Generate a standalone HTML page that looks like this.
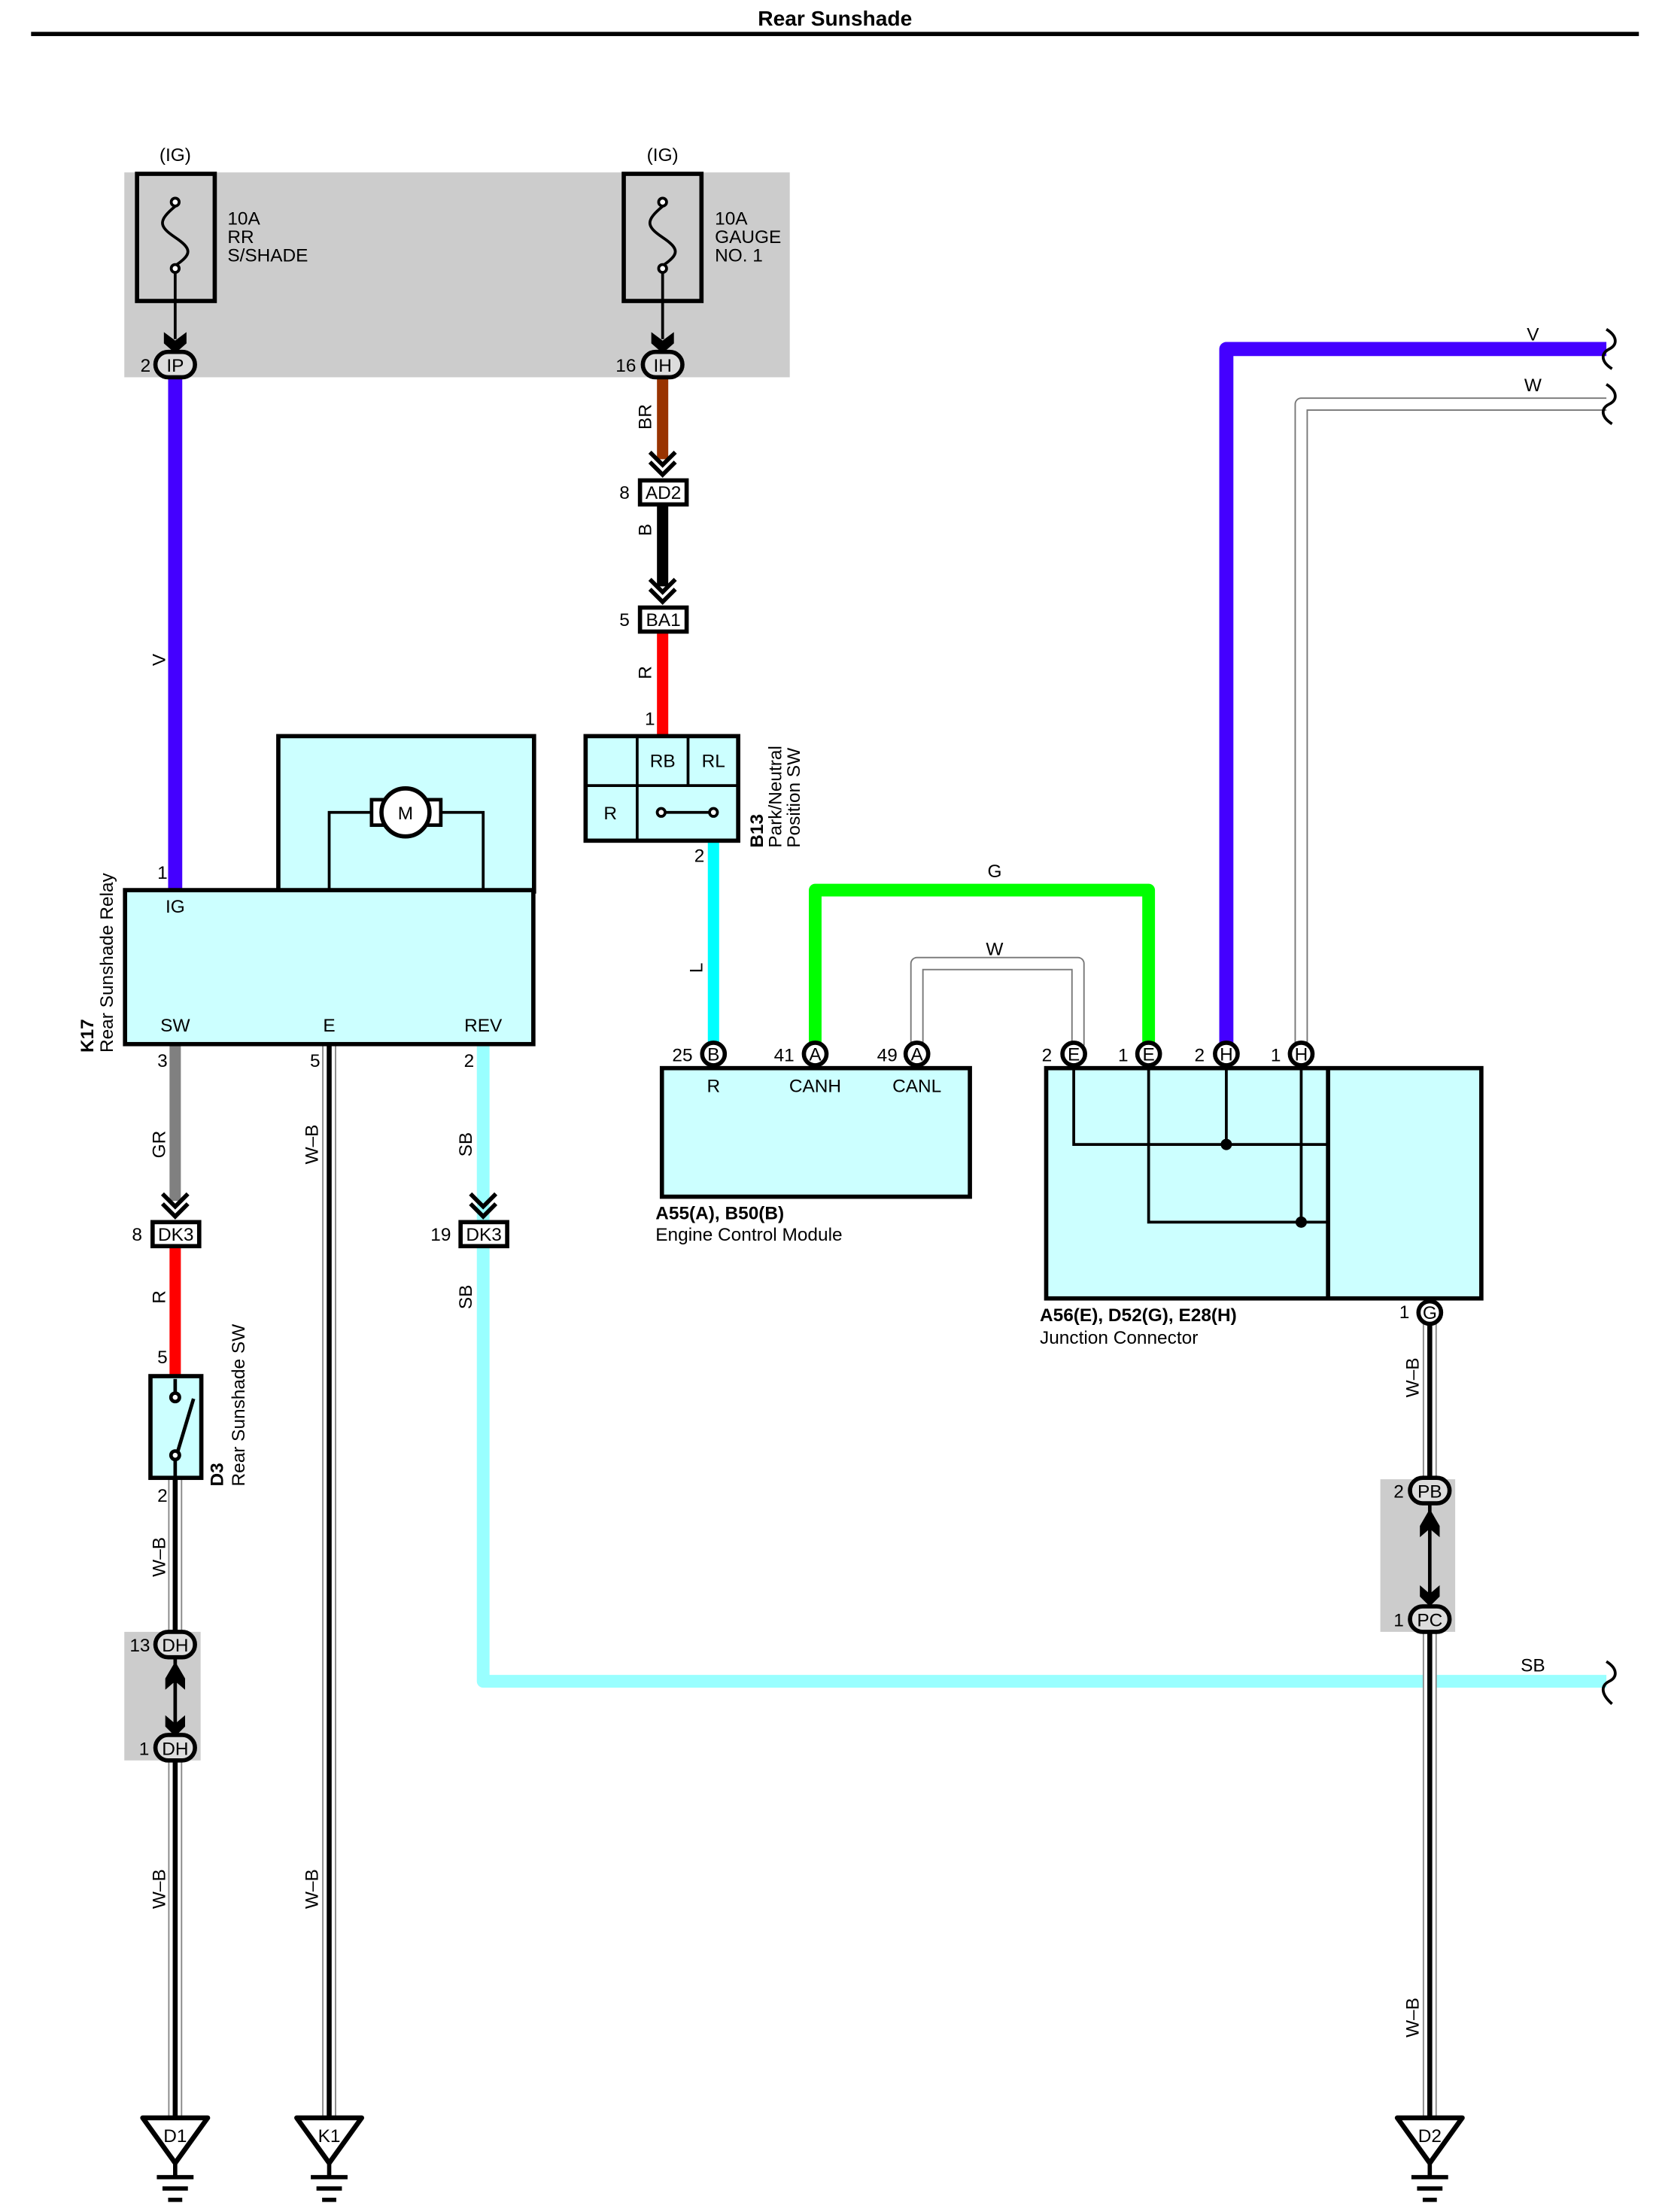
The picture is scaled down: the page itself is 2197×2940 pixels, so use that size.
<!DOCTYPE html>
<html><head><meta charset="utf-8"><style>
html,body{margin:0;padding:0;background:#fff;}
svg{display:block;}
text{font-family:"Liberation Sans",Arial,sans-serif;font-size:13px;fill:#000;}
.b{font-weight:bold;}
</style></head><body>
<svg width="2197" height="2940" viewBox="0 0 1170 1565.6" xmlns="http://www.w3.org/2000/svg">
<rect x="0" y="0" width="1170" height="1566" fill="#fff"/>
<text x="591" y="18" text-anchor="middle" class="b" style="font-size:15px">Rear Sunshade</text>
<rect x="22" y="22.5" width="1138" height="3" fill="#000"/>

<!-- gray fuse block -->
<rect x="88" y="122" width="471" height="145" fill="#cccccc"/>
<text x="124" y="114" text-anchor="middle">(IG)</text>
<text x="469" y="114" text-anchor="middle">(IG)</text>
<rect x="97" y="123" width="55" height="90" fill="none" stroke="#000" stroke-width="3"/>
<rect x="441.5" y="123" width="55" height="90" fill="none" stroke="#000" stroke-width="3"/>
<g fill="none" stroke="#000" stroke-width="2">
<path d="M124,146 C112,156 112,160 124,168 C136,176 136,180 124,188"/>
<circle cx="124" cy="143" r="2.8" fill="#fff"/><circle cx="124" cy="190" r="2.8" fill="#fff"/>
<path d="M469,146 C457,156 457,160 469,168 C481,176 481,180 469,188"/>
<circle cx="469" cy="143" r="2.8" fill="#fff"/><circle cx="469" cy="190" r="2.8" fill="#fff"/>
<line x1="124" y1="193" x2="124" y2="240"/><line x1="469" y1="193" x2="469" y2="240"/>
</g>
<polygon points="116,235 124,241 132,235 132,243 124,250 116,243" fill="#000"/>
<polygon points="461,235 469,241 477,235 477,243 469,250 461,243" fill="#000"/>
<text x="161" y="159">10A</text><text x="161" y="172">RR</text><text x="161" y="185">S/SHADE</text>
<text x="506" y="159">10A</text><text x="506" y="172">GAUGE</text><text x="506" y="185">NO. 1</text>

<!-- wires -->
<g fill="none" stroke-linejoin="round">
<line x1="124" y1="266" x2="124" y2="630" stroke="#4400ff" stroke-width="10"/>
<line x1="469" y1="266" x2="469" y2="325" stroke="#993300" stroke-width="8"/>
<line x1="469" y1="357" x2="469" y2="415" stroke="#000" stroke-width="8"/>
<line x1="469" y1="448" x2="469" y2="520" stroke="#ff0000" stroke-width="8"/>
<line x1="505" y1="595" x2="505" y2="740" stroke="#00ffff" stroke-width="8"/>
<line x1="124" y1="739" x2="124" y2="850" stroke="#808080" stroke-width="8"/>
<line x1="124" y1="882" x2="124" y2="973" stroke="#ff0000" stroke-width="8"/>
<path d="M342,739 L342,1190 L1137,1190" stroke="#99ffff" stroke-width="9"/>
<path d="M577,740 L577,630 L813,630 L813,740" stroke="#00ff00" stroke-width="9"/>
<path d="M868,740 L868,247 L1137,247" stroke="#4400ff" stroke-width="10"/>
<path d="M649,740 L649,682 L763,682 L763,740" stroke="#777" stroke-width="9.5"/>
<path d="M649,740 L649,682 L763,682 L763,740" stroke="#fff" stroke-width="7.5"/>
<path d="M921,740 L921,286 L1137,286" stroke="#777" stroke-width="9.5"/>
<path d="M921,740 L921,286 L1137,286" stroke="#fff" stroke-width="7.5"/>
</g>
<!-- W-B wires -->
<g fill="none">
<g stroke="#888" stroke-width="10"><line x1="124" y1="1046" x2="124" y2="1500"/><line x1="233" y1="739" x2="233" y2="1500"/><line x1="1012" y1="935" x2="1012" y2="1500"/></g>
<g stroke="#fff" stroke-width="8"><line x1="124" y1="1046" x2="124" y2="1500"/><line x1="233" y1="739" x2="233" y2="1500"/><line x1="1012" y1="935" x2="1012" y2="1500"/></g>
<g stroke="#000" stroke-width="3.5"><line x1="124" y1="1046" x2="124" y2="1500"/><line x1="233" y1="739" x2="233" y2="1500"/><line x1="1012" y1="935" x2="1012" y2="1500"/></g>
</g>
<!-- wavy ends -->
<g fill="none" stroke="#000" stroke-width="2">
<path d="M1137,233 C1145,238 1145,244 1139,247 C1133,250 1133,256 1141,261"/>
<path d="M1137,272 C1145,277 1145,283 1139,286 C1133,289 1133,295 1141,300"/>
<path d="M1137,1176 C1145,1181 1145,1187 1139,1190 C1133,1193 1133,1199 1141,1206"/>
</g>

<!-- chevrons -->
<g fill="none" stroke="#000" stroke-width="3">
<path d="M460,320 L469,329 L478,320 M460,327 L469,336 L478,327"/>
<path d="M460,410 L469,419 L478,410 M460,417 L469,426 L478,417"/>
<path d="M115,845 L124,854 L133,845 M115,852 L124,861 L133,852"/>
<path d="M333,845 L342,854 L351,845 M333,852 L342,861 L351,852"/>
</g>
<g fill="#fff" stroke="#000" stroke-width="3">
<rect x="453" y="340" width="33" height="17"/>
<rect x="453" y="430" width="33" height="17"/>
<rect x="108" y="865" width="33" height="17"/>
<rect x="326" y="865" width="33" height="17"/>
</g>
<text x="469.5" y="353" text-anchor="middle">AD2</text><text x="442" y="353" text-anchor="middle">8</text>
<text x="469.5" y="443" text-anchor="middle">BA1</text><text x="442" y="443" text-anchor="middle">5</text>
<text x="124.5" y="878" text-anchor="middle">DK3</text><text x="97" y="878" text-anchor="middle">8</text>
<text x="342.5" y="878" text-anchor="middle">DK3</text><text x="312" y="878" text-anchor="middle">19</text>

<g fill="#ddd" stroke="#000" stroke-width="3">
<rect x="110" y="249" width="28" height="18" rx="9"/>
<rect x="455" y="249" width="28" height="18" rx="9"/>
</g>
<text x="124" y="263" text-anchor="middle">IP</text><text x="103" y="263" text-anchor="middle">2</text>
<text x="469" y="263" text-anchor="middle">IH</text><text x="443" y="263" text-anchor="middle">16</text>

<!-- B13 -->
<rect x="414.5" y="521" width="108" height="74" fill="#ccffff" stroke="#000" stroke-width="3"/>
<g stroke="#000" stroke-width="2" fill="none">
<line x1="451" y1="521" x2="451" y2="595"/><line x1="487" y1="521" x2="487" y2="556"/><line x1="414" y1="556" x2="523" y2="556"/>
<line x1="468" y1="575" x2="505" y2="575"/>
<circle cx="468" cy="575" r="2.8" fill="#fff"/><circle cx="505" cy="575" r="2.8" fill="#fff"/>
</g>
<text x="469" y="543" text-anchor="middle">RB</text><text x="505" y="543" text-anchor="middle">RL</text><text x="432" y="580" text-anchor="middle">R</text>
<text x="460" y="513" text-anchor="middle">1</text><text x="495" y="610" text-anchor="middle">2</text>
<g transform="translate(540,600) rotate(-90)"><text x="0" y="0" class="b">B13</text></g>
<g transform="translate(553,600) rotate(-90)"><text x="0" y="0">Park/Neutral</text></g>
<g transform="translate(566,600) rotate(-90)"><text x="0" y="0">Position SW</text></g>

<!-- motor box + relay -->
<rect x="197" y="521" width="181" height="110" fill="#ccffff" stroke="#000" stroke-width="3"/>
<g fill="none" stroke="#000" stroke-width="2">
<path d="M233,630 L233,575 L342,575 L342,630"/>
</g>
<rect x="263" y="566" width="10" height="18" fill="#fff" stroke="#000" stroke-width="2.5"/>
<rect x="302" y="566" width="10" height="18" fill="#fff" stroke="#000" stroke-width="2.5"/>
<circle cx="287" cy="575" r="17" fill="#fff" stroke="#000" stroke-width="3"/>
<text x="287" y="580" text-anchor="middle">M</text>
<rect x="88.5" y="630" width="289" height="109" fill="#ccffff" stroke="#000" stroke-width="3"/>
<text x="124" y="646" text-anchor="middle">IG</text>
<text x="124" y="730" text-anchor="middle">SW</text><text x="233" y="730" text-anchor="middle">E</text><text x="342" y="730" text-anchor="middle">REV</text>
<text x="115" y="622" text-anchor="middle">1</text>
<text x="115" y="755" text-anchor="middle">3</text><text x="223" y="755" text-anchor="middle">5</text><text x="332" y="755" text-anchor="middle">2</text>
<g transform="translate(66,745) rotate(-90)"><text x="0" y="0" class="b">K17</text></g>
<g transform="translate(80,745) rotate(-90)"><text x="0" y="0">Rear Sunshade Relay</text></g>

<!-- D3 switch -->
<rect x="106.5" y="974" width="36" height="72" fill="#ccffff" stroke="#000" stroke-width="3"/>
<g stroke="#000" stroke-width="2.5" fill="none">
<line x1="124" y1="976" x2="124" y2="986"/><line x1="124" y1="1032" x2="124" y2="1046"/>
<line x1="125" y1="1030" x2="137" y2="990"/>
<circle cx="124" cy="989" r="3" fill="#fff"/><circle cx="124" cy="1030" r="3" fill="#fff"/>
</g>
<text x="115" y="965" text-anchor="middle">5</text><text x="115" y="1063" text-anchor="middle">2</text>
<g transform="translate(158,1052) rotate(-90)"><text x="0" y="0" class="b">D3</text></g>
<g transform="translate(173,1052) rotate(-90)"><text x="0" y="0">Rear Sunshade SW</text></g>

<!-- DH splice -->
<rect x="88" y="1155" width="54" height="91" fill="#cccccc"/>
<rect x="118" y="1170" width="12" height="62" fill="#ccc"/>
<line x1="124" y1="1172" x2="124" y2="1228" stroke="#000" stroke-width="2.5"/>
<polygon points="117,1188 124,1176 131,1188 131,1196 124,1190 117,1196" fill="#000"/>
<polygon points="117,1214 124,1220 131,1214 131,1222 124,1229 117,1222" fill="#000"/>
<g fill="#ddd" stroke="#000" stroke-width="3">
<rect x="110" y="1155" width="28" height="18" rx="9"/>
<rect x="110" y="1228" width="28" height="18" rx="9"/>
</g>
<text x="124" y="1169" text-anchor="middle">DH</text><text x="99" y="1169" text-anchor="middle">13</text>
<text x="124" y="1242" text-anchor="middle">DH</text><text x="102" y="1242" text-anchor="middle">1</text>

<!-- PB/PC splice -->
<rect x="977" y="1047" width="53" height="108" fill="#cccccc"/>
<rect x="1006" y="1062" width="12" height="78" fill="#ccc"/>
<line x1="1012" y1="1064" x2="1012" y2="1136" stroke="#000" stroke-width="2.5"/>
<polygon points="1005,1080 1012,1068 1019,1080 1019,1088 1012,1082 1005,1088" fill="#000"/>
<polygon points="1005,1122 1012,1128 1019,1122 1019,1130 1012,1137 1005,1130" fill="#000"/>
<g fill="#ddd" stroke="#000" stroke-width="3">
<rect x="998" y="1046" width="28" height="18" rx="9"/>
<rect x="998" y="1137" width="28" height="18" rx="9"/>
</g>
<text x="1012" y="1060" text-anchor="middle">PB</text><text x="990" y="1060" text-anchor="middle">2</text>
<text x="1012" y="1151" text-anchor="middle">PC</text><text x="990" y="1151" text-anchor="middle">1</text>

<!-- ECM -->
<rect x="468.5" y="756" width="218" height="91" fill="#ccffff" stroke="#000" stroke-width="3"/>
<text x="505" y="773" text-anchor="middle">R</text><text x="577" y="773" text-anchor="middle">CANH</text><text x="649" y="773" text-anchor="middle">CANL</text>
<text x="464" y="863" class="b">A55(A), B50(B)</text>
<text x="464" y="878">Engine Control Module</text>

<!-- Junction connector -->
<rect x="740.5" y="756" width="308" height="163" fill="#ccffff" stroke="#000" stroke-width="3"/>
<line x1="940" y1="756" x2="940" y2="919" stroke="#000" stroke-width="3"/>
<g fill="none" stroke="#000" stroke-width="2">
<path d="M760,755 L760,810 L940,810"/><line x1="868" y1="755" x2="868" y2="810"/>
<path d="M813,755 L813,865 L940,865"/><line x1="921" y1="755" x2="921" y2="865"/>
</g>
<circle cx="868" cy="810" r="4" fill="#000"/><circle cx="921" cy="865" r="4" fill="#000"/>
<text x="736" y="935" class="b">A56(E), D52(G), E28(H)</text>
<text x="736" y="951">Junction Connector</text>

<g fill="#fff" stroke="#000" stroke-width="3">
<circle cx="505" cy="746" r="8"/><circle cx="577" cy="746" r="8"/><circle cx="649" cy="746" r="8"/>
<circle cx="760" cy="746" r="8"/><circle cx="813" cy="746" r="8"/><circle cx="868" cy="746" r="8"/><circle cx="921" cy="746" r="8"/>
<circle cx="1012" cy="929" r="8"/>
</g>
<g text-anchor="middle" style="font-size:12px">
<text x="505" y="750.5">B</text><text x="577" y="750.5">A</text><text x="649" y="750.5">A</text>
<text x="760" y="750.5">E</text><text x="813" y="750.5">E</text><text x="868" y="750.5">H</text><text x="921" y="750.5">H</text>
<text x="1012" y="933.5">G</text>
</g>
<text x="483" y="751" text-anchor="middle">25</text><text x="555" y="751" text-anchor="middle">41</text><text x="628" y="751" text-anchor="middle">49</text>
<text x="741" y="751" text-anchor="middle">2</text><text x="795" y="751" text-anchor="middle">1</text><text x="849" y="751" text-anchor="middle">2</text><text x="903" y="751" text-anchor="middle">1</text>
<text x="994" y="933" text-anchor="middle">1</text>

<text x="704" y="621" text-anchor="middle">G</text>
<text x="704" y="676" text-anchor="middle">W</text>
<text x="1085" y="241" text-anchor="middle">V</text>
<text x="1085" y="277" text-anchor="middle">W</text>
<text x="1085" y="1183" text-anchor="middle">SB</text>
<g text-anchor="middle">
<g transform="translate(117,467) rotate(-90)"><text>V</text></g>
<g transform="translate(461,295) rotate(-90)"><text>BR</text></g>
<g transform="translate(461,375) rotate(-90)"><text>B</text></g>
<g transform="translate(461,476) rotate(-90)"><text>R</text></g>
<g transform="translate(497,685) rotate(-90)"><text>L</text></g>
<g transform="translate(117,810) rotate(-90)"><text>GR</text></g>
<g transform="translate(117,918) rotate(-90)"><text>R</text></g>
<g transform="translate(117,1102) rotate(-90)"><text>W–B</text></g>
<g transform="translate(117,1337) rotate(-90)"><text>W–B</text></g>
<g transform="translate(225,810) rotate(-90)"><text>W–B</text></g>
<g transform="translate(225,1337) rotate(-90)"><text>W–B</text></g>
<g transform="translate(334,810) rotate(-90)"><text>SB</text></g>
<g transform="translate(334,918) rotate(-90)"><text>SB</text></g>
<g transform="translate(1004,975) rotate(-90)"><text>W–B</text></g>
<g transform="translate(1004,1428) rotate(-90)"><text>W–B</text></g>
</g>

<g fill="#fff" stroke="#000" stroke-width="3.5" stroke-linejoin="round">
<polygon points="101,1499 147,1499 124,1531"/>
<polygon points="210,1499 256,1499 233,1531"/>
<polygon points="989,1499 1035,1499 1012,1531"/>
</g>
<g stroke="#000" stroke-width="3">
<path d="M124,1531 V1541 M111,1541 H137 M115,1549 H133 M119,1557 H129"/>
<path d="M233,1531 V1541 M220,1541 H246 M224,1549 H242 M228,1557 H238"/>
<path d="M1012,1531 V1541 M999,1541 H1025 M1003,1549 H1021 M1007,1557 H1017"/>
</g>
<text x="124" y="1516" text-anchor="middle">D1</text>
<text x="233" y="1516" text-anchor="middle">K1</text>
<text x="1012" y="1516" text-anchor="middle">D2</text>
</svg>
</body></html>
